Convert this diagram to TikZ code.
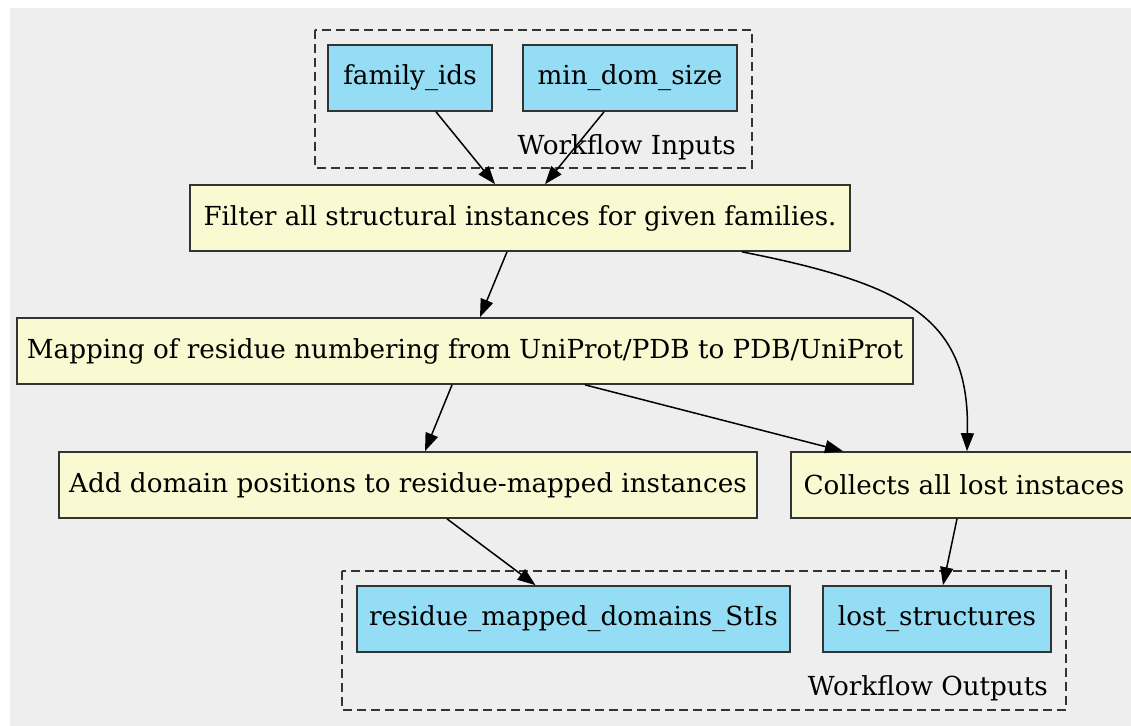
\documentclass[tikz,border=0pt]{standalone}
\usepackage{fontspec}
\setmainfont{DejaVu Serif}
\usetikzlibrary{arrows.meta}
\definecolor{bggray}{HTML}{EEEEEE}
\definecolor{ioblue}{HTML}{94DDF4}
\definecolor{stepyellow}{HTML}{FAFAD2}
\tikzset{
  box/.style={draw=black!80, line width=1.7pt, minimum height=66pt, inner sep=0pt, font=\fontsize{26.2}{31}\selectfont},
  iobox/.style={box, fill=ioblue},
  stepbox/.style={box, fill=stepyellow},
  cluster/.style={draw=black!80, line width=1.5pt, dash pattern=on 9pt off 5pt},
  clabel/.style={font=\fontsize{26.2}{31}\selectfont, anchor=base east, inner sep=0pt},
  edge/.style={line width=1.5pt, -{Triangle[length=18pt,width=13pt]}},
}
\begin{document}
\begin{tikzpicture}[x=1pt,y=-1pt]
\useasboundingbox (0,0) rectangle (1131,725);
\clip (0,0) rectangle (1131,725);
\fill[bggray] (10,8) rectangle (1140,730);
% clusters
\draw[cluster] (315,30) rectangle (752,168);
\draw[cluster] (342,571) rectangle (1066,710);
\node[clabel] (inlab) at (736,154) {Workflow Inputs};
\node[clabel] (outlab) at (1048,695) {Workflow Outputs};
% nodes
\node[iobox, minimum width=164pt] (fam) at (410,78) {family\_ids};
\node[iobox, minimum width=214pt] (mind) at (630,78) {min\_dom\_size};
\node[stepbox, minimum width=660pt] (filter) at (520,218) {\resizebox{633pt}{\height}{Filter all structural instances for given families.}};
\node[stepbox, minimum width=896pt] (map) at (465,351) {Mapping of residue numbering from UniProt/PDB to PDB/UniProt};
\node[stepbox, minimum width=698pt] (add) at (408,485) {Add domain positions to residue-mapped instances};
\node[stepbox, minimum width=346pt] (coll) at (964,485) {Collects all lost instaces};
\node[iobox, minimum width=433pt] (res) at (573.5,619) {residue\_mapped\_domains\_StIs};
\node[iobox, minimum width=228pt] (lost) at (937,619) {lost\_structures};
% edges
\draw[edge] ([xshift=26pt]fam.south) -- ([xshift=-25pt]filter.north);
\draw[edge] ([xshift=-26pt]mind.south) -- ([xshift=25pt]filter.north);
\draw[edge] ([xshift=-13pt]filter.south) -- ([xshift=15pt]map.north);
\draw[edge] ([xshift=222pt]filter.south) .. controls (910,285) and (970,320) .. ([xshift=3pt]coll.north);
\draw[edge] ([xshift=-13pt]map.south) -- ([xshift=17pt]add.north);
\draw[edge] ([xshift=120pt]map.south) -- ([xshift=-121pt]coll.north);
\draw[edge] ([xshift=39pt]add.south) -- ([xshift=-38pt]res.north);
\draw[edge] ([xshift=-7pt]coll.south) -- ([xshift=6pt]lost.north);
\end{tikzpicture}
\end{document}
